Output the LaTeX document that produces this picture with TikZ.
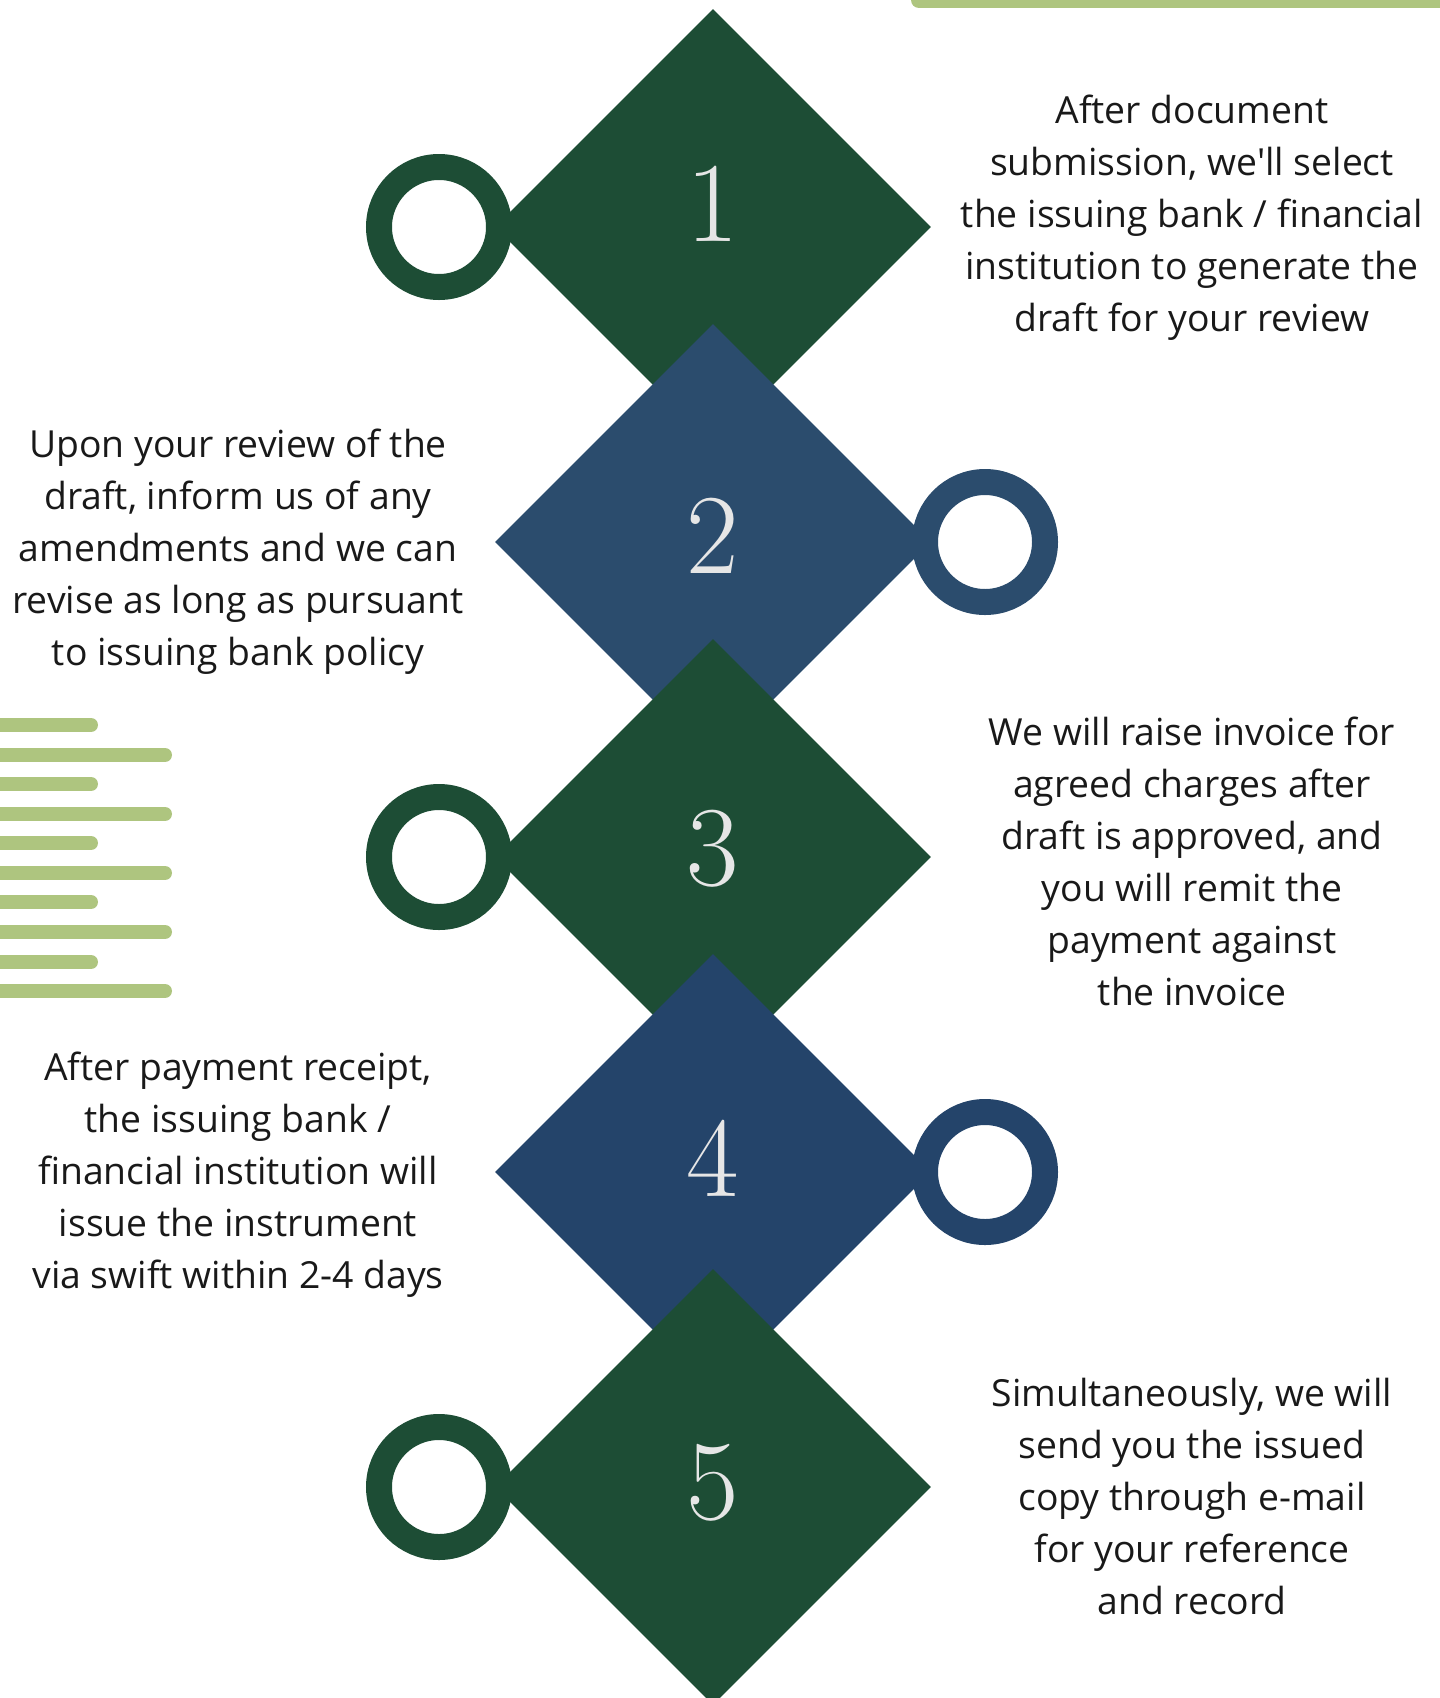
\documentclass[tikz,border=0pt]{standalone}
\usepackage{fontspec}
\newfontfamily\bodyfont{Open Sans}
\usepackage{tikz}
\usetikzlibrary{shapes.geometric}
\usepackage{xcolor}

\definecolor{stepgreen}{HTML}{1D4D35}
\definecolor{stepblue}{HTML}{2B4C6D}
\definecolor{stepnavy}{HTML}{24446A}
\definecolor{leaf}{HTML}{AEC57F}
\definecolor{numgray}{HTML}{E6E6E6}

\begin{document}
\begin{tikzpicture}[x=1pt, y=-1pt,
	tile/.style={diamond, aspect=1, fill=#1, minimum width=436pt, minimum height=436pt, inner sep=0pt},
	ring/.style={circle, draw=#1, fill=white, line width=26pt, minimum size=120pt, inner sep=0pt},
	numlabel/.style={text=numgray, font=\fontsize{114}{114}\selectfont},
	note/.style={align=center, text=black!90, font=\bodyfont\fontsize{37.3}{52}\selectfont},
	stripe/.style={leaf, line width=14pt, line cap=round}]
						\useasboundingbox (0, 0) rectangle (1440, 1698);
						\clip (0, 0) rectangle (1440, 1698);
						% green bar, top right
						\draw[leaf, line width=16pt, line cap=round] (919, 0) -- (1470, 0);
						% stripes on the left
						\foreach \y/\len in {725/91, 755/165, 784/91, 814/165, 843/91, 873/165, 902/91, 932/165, 962/91, 991/165}
							\draw[stripe] (-20, \y) -- (\len, \y);
						% step 1
						\node[tile=stepgreen] (d1) at (713, 227) {};
						\node[ring=stepgreen] (c1) at (439, 227) {};
						\node[numlabel] (n1) at (713, 204) {1};
						\node[note] (t1) at (1192, 218) {After document\\submission, we\textquotesingle ll select\\the issuing bank / financial\\institution to generate the\\draft for your review};
						% step 2
						\node[tile=stepblue] (d2) at (713, 542) {};
						\node[ring=stepblue] (c2) at (985, 542) {};
						\node[numlabel] (n2) at (713, 536) {2};
						\node[note] (t2) at (238, 552) {Upon your review of the\\draft, inform us of any\\amendments and we can\\revise as long as pursuant\\to issuing bank policy};
						% step 3
						\node[tile=stepgreen] (d3) at (713, 857) {};
						\node[ring=stepgreen] (c3) at (439, 857) {};
						\node[numlabel] (n3) at (713, 849) {3};
						\node[note] (t3) at (1192, 861) {We will raise invoice for\\agreed charges after\\draft is approved, and\\you will remit the\\payment against\\the invoice};
						% step 4
						\node[tile=stepnavy] (d4) at (713, 1172) {};
						\node[ring=stepnavy] (c4) at (985, 1172) {};
						\node[numlabel] (n4) at (713, 1158) {4};
						\node[note] (t4) at (238, 1175) {After payment receipt,\\the issuing bank /\\financial institution will\\issue the instrument\\via swift within 2-4 days};
						% step 5
						\node[tile=stepgreen] (d5) at (713, 1487) {};
						\node[ring=stepgreen] (c5) at (439, 1487) {};
						\node[numlabel] (n5) at (713, 1483) {5};
						\node[note] (t5) at (1192, 1496) {Simultaneously, we will\\send you the issued\\copy through e-mail\\for your reference\\and record};
					\end{tikzpicture}
\end{document}
